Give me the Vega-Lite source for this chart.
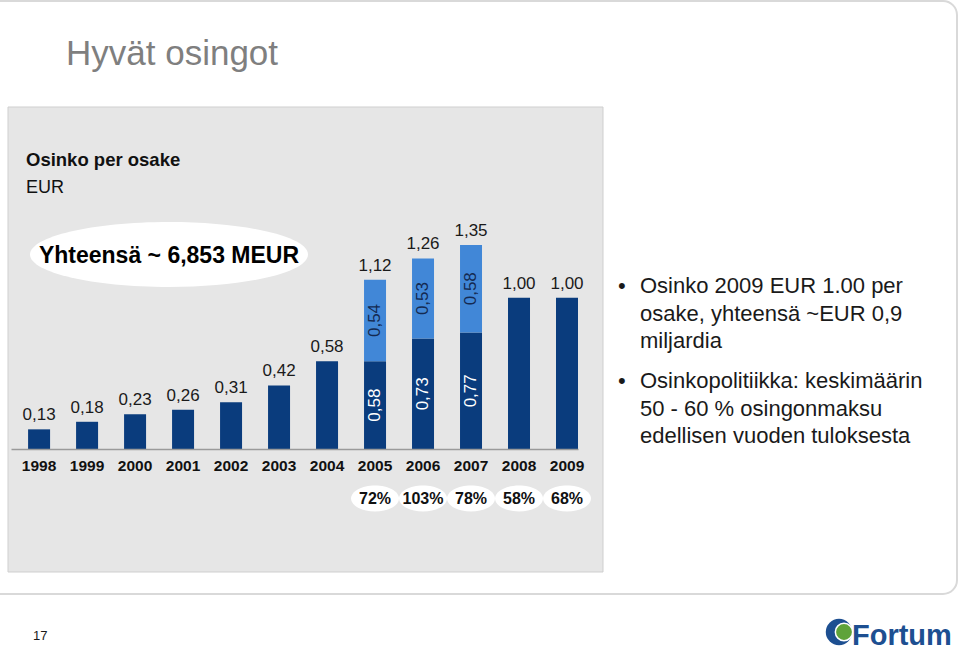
{
  "$schema": "https://vega.github.io/schema/vega-lite/v6.json",
  "width": 567,
  "height": 449,
  "autosize": {"type": "none"},
  "padding": {"left": 11, "top": 0, "right": 382, "bottom": 201},
  "background": "white",
  "config": {
    "view": {"stroke": null},
    "font": "Liberation Sans",
    "locale": {"number": {"decimal": ",", "thousands": "\u00a0", "grouping": [3], "currency": ["", "\u00a0€"]}}
  },
  "datasets": {
    "osinko": [
      {"year": "1998", "part": "Osinko", "value": 0.13},
      {"year": "1999", "part": "Osinko", "value": 0.18},
      {"year": "2000", "part": "Osinko", "value": 0.23},
      {"year": "2001", "part": "Osinko", "value": 0.26},
      {"year": "2002", "part": "Osinko", "value": 0.31},
      {"year": "2003", "part": "Osinko", "value": 0.42},
      {"year": "2004", "part": "Osinko", "value": 0.58},
      {"year": "2005", "part": "Osinko", "value": 0.58},
      {"year": "2005", "part": "Lisäosinko", "value": 0.54},
      {"year": "2006", "part": "Osinko", "value": 0.73},
      {"year": "2006", "part": "Lisäosinko", "value": 0.53},
      {"year": "2007", "part": "Osinko", "value": 0.77},
      {"year": "2007", "part": "Lisäosinko", "value": 0.58},
      {"year": "2008", "part": "Osinko", "value": 1.0},
      {"year": "2009", "part": "Osinko", "value": 1.0}
    ],
    "payout": [
      {"year": "2005", "ratio": 0.72},
      {"year": "2006", "ratio": 1.03},
      {"year": "2007", "ratio": 0.78},
      {"year": "2008", "ratio": 0.58},
      {"year": "2009", "ratio": 0.68}
    ]
  },
  "layer": [
    {
      "data": {"values": [{}]},
      "mark": {"type": "rect", "fill": "white", "stroke": "#d9d9d9", "strokeWidth": 2, "cornerRadius": 14},
      "encoding": {"x": {"value": -25}, "x2": {"value": 946}, "y": {"value": 1}, "y2": {"value": 594}}
    },
    {
      "data": {"values": [{}]},
      "mark": {"type": "rect", "fill": "#e6e6e6", "stroke": "#cfcfcf", "strokeWidth": 1},
      "encoding": {"x": {"value": -3}, "x2": {"value": 592}, "y": {"value": 107}, "y2": {"value": 572}}
    },
    {
      "data": {"values": [{}]},
      "mark": {"type": "text", "text": "Hyvät osingot", "align": "left", "baseline": "alphabetic", "fontSize": 35, "color": "#7f7f7f"},
      "encoding": {"x": {"value": 55}, "y": {"value": 65}}
    },
    {
      "data": {"values": [{}]},
      "mark": {"type": "text", "text": "Osinko per osake", "align": "left", "baseline": "alphabetic", "fontSize": 18.5, "fontWeight": "bold", "color": "#111111"},
      "encoding": {"x": {"value": 15}, "y": {"value": 166}}
    },
    {
      "data": {"values": [{}]},
      "mark": {"type": "text", "text": "EUR", "align": "left", "baseline": "alphabetic", "fontSize": 18, "color": "#111111"},
      "encoding": {"x": {"value": 15}, "y": {"value": 193}}
    },
    {
      "data": {"values": [{}]},
      "mark": {"type": "point", "shape": "M-139,0A139,32.5,0,1,0,139,0A139,32.5,0,1,0,-139,0Z", "size": 4, "filled": true, "fill": "white", "opacity": 1, "strokeWidth": 0},
      "encoding": {"x": {"value": 158}, "y": {"value": 254.5}}
    },
    {
      "data": {"values": [{}]},
      "mark": {"type": "text", "text": "Yhteensä ~ 6,853 MEUR", "align": "center", "baseline": "middle", "fontSize": 23, "fontWeight": "bold", "color": "#000000"},
      "encoding": {"x": {"value": 158}, "y": {"value": 256}}
    },
    {
      "data": {"name": "osinko"},
      "mark": {"type": "bar"},
      "encoding": {
        "x": {"field": "year", "type": "nominal", "title": null,
              "scale": {"paddingInner": 0.5417, "paddingOuter": 0.178, "align": 1},
              "axis": {"zindex": 2, "domainColor": "#9a9a9a", "domainWidth": 1.5, "ticks": false, "tickSize": 0, "labelAngle": 0, "labelFontWeight": "bold", "labelFontSize": 15.5, "labelColor": "#111111", "labelPadding": 16, "labelBaseline": "middle"}},
        "y": {"field": "value", "type": "quantitative", "aggregate": "sum", "scale": {"domain": [0, 2.9696], "nice": false}, "axis": null},
        "color": {"field": "part", "type": "nominal", "scale": {"domain": ["Osinko", "Lisäosinko"], "range": ["#0a3c7d", "#4187d7"]}, "legend": null},
        "order": {"field": "part", "sort": "descending"}
      }
    },
    {
      "data": {"name": "osinko"},
      "transform": [
        {"filter": {"field": "year", "oneOf": ["2005", "2006", "2007"]}},
        {"stack": "value", "groupby": ["year"], "sort": [{"field": "part", "order": "descending"}], "as": ["v0", "v1"]},
        {"calculate": "(datum.v0 + datum.v1) / 2", "as": "vmid"}
      ],
      "mark": {"type": "text", "angle": 270, "align": "center", "baseline": "middle", "fontSize": 17},
      "encoding": {
        "x": {"field": "year", "type": "nominal", "title": null,
              "scale": {"paddingInner": 0.5417, "paddingOuter": 0.178, "align": 1},
              "axis": {"zindex": 2, "domainColor": "#9a9a9a", "domainWidth": 1.5, "ticks": false, "tickSize": 0, "labelAngle": 0, "labelFontWeight": "bold", "labelFontSize": 15.5, "labelColor": "#111111", "labelPadding": 16, "labelBaseline": "middle"}},
        "y": {"field": "vmid", "type": "quantitative", "scale": {"domain": [0, 2.9696], "nice": false}, "axis": null},
        "text": {"field": "value", "type": "quantitative", "format": ".2f"},
        "color": {"condition": {"test": "datum.part === 'Osinko'", "value": "#ffffff"}, "value": "#142a52"}
      }
    },
    {
      "data": {"name": "osinko"},
      "transform": [
        {"aggregate": [{"op": "sum", "field": "value", "as": "total"}], "groupby": ["year"]}
      ],
      "mark": {"type": "text", "align": "center", "baseline": "alphabetic", "dy": -9, "fontSize": 17, "color": "#1a1a1a"},
      "encoding": {
        "x": {"field": "year", "type": "nominal", "title": null,
              "scale": {"paddingInner": 0.5417, "paddingOuter": 0.178, "align": 1},
              "axis": {"zindex": 2, "domainColor": "#9a9a9a", "domainWidth": 1.5, "ticks": false, "tickSize": 0, "labelAngle": 0, "labelFontWeight": "bold", "labelFontSize": 15.5, "labelColor": "#111111", "labelPadding": 16, "labelBaseline": "middle"}},
        "y": {"field": "total", "type": "quantitative", "scale": {"domain": [0, 2.9696], "nice": false}, "axis": null},
        "text": {"field": "total", "type": "quantitative", "format": ".2f"}
      }
    },
    {
      "data": {"name": "payout"},
      "mark": {"type": "point", "shape": "M-24,0A24,13,0,1,0,24,0A24,13,0,1,0,-24,0Z", "size": 4, "filled": true, "fill": "white", "opacity": 1, "strokeWidth": 0},
      "encoding": {
        "x": {"field": "year", "type": "nominal", "title": null,
              "scale": {"paddingInner": 0.5417, "paddingOuter": 0.178, "align": 1},
              "axis": {"zindex": 2, "domainColor": "#9a9a9a", "domainWidth": 1.5, "ticks": false, "tickSize": 0, "labelAngle": 0, "labelFontWeight": "bold", "labelFontSize": 15.5, "labelColor": "#111111", "labelPadding": 16, "labelBaseline": "middle"}},
        "y": {"value": 498.5}
      }
    },
    {
      "data": {"name": "payout"},
      "mark": {"type": "text", "align": "center", "baseline": "middle", "fontSize": 16, "fontWeight": "bold", "color": "#111111"},
      "encoding": {
        "x": {"field": "year", "type": "nominal", "title": null,
              "scale": {"paddingInner": 0.5417, "paddingOuter": 0.178, "align": 1},
              "axis": {"zindex": 2, "domainColor": "#9a9a9a", "domainWidth": 1.5, "ticks": false, "tickSize": 0, "labelAngle": 0, "labelFontWeight": "bold", "labelFontSize": 15.5, "labelColor": "#111111", "labelPadding": 16, "labelBaseline": "middle"}},
        "y": {"value": 498.5},
        "text": {"field": "ratio", "type": "quantitative", "format": ".0%"}
      }
    },
    {
      "data": {"values": [{}]},
      "mark": {"type": "text", "text": "•", "align": "left", "baseline": "alphabetic", "fontSize": 22, "color": "#1a1a1a"},
      "encoding": {"x": {"value": 607}, "y": {"value": 293}}
    },
    {
      "data": {"values": [{}]},
      "mark": {"type": "text", "text": ["Osinko 2009 EUR 1.00 per", "osake, yhteensä ~EUR 0,9", "miljardia"], "align": "left", "baseline": "alphabetic", "fontSize": 22, "lineHeight": 27.5, "color": "#1a1a1a"},
      "encoding": {"x": {"value": 629}, "y": {"value": 293}}
    },
    {
      "data": {"values": [{}]},
      "mark": {"type": "text", "text": "•", "align": "left", "baseline": "alphabetic", "fontSize": 22, "color": "#1a1a1a"},
      "encoding": {"x": {"value": 607}, "y": {"value": 388}}
    },
    {
      "data": {"values": [{}]},
      "mark": {"type": "text", "text": ["Osinkopolitiikka: keskimäärin", "50 - 60 % osingonmaksu", "edellisen vuoden tuloksesta"], "align": "left", "baseline": "alphabetic", "fontSize": 22, "lineHeight": 27.5, "color": "#1a1a1a"},
      "encoding": {"x": {"value": 629}, "y": {"value": 388}}
    },
    {
      "data": {"values": [{}]},
      "mark": {"type": "text", "text": "17", "align": "left", "baseline": "alphabetic", "fontSize": 13, "color": "#1a1a1a"},
      "encoding": {"x": {"value": 22}, "y": {"value": 640}}
    },
    {
      "data": {"values": [{}]},
      "mark": {"type": "point", "shape": "circle", "size": 700, "filled": true, "fill": "#1d4f91", "opacity": 1, "strokeWidth": 0},
      "encoding": {"x": {"value": 828}, "y": {"value": 632}}
    },
    {
      "data": {"values": [{}]},
      "mark": {"type": "point", "shape": "circle", "size": 300, "filled": true, "fill": "#5fa33a", "opacity": 1, "stroke": "white", "strokeWidth": 1.5},
      "encoding": {"x": {"value": 833}, "y": {"value": 632}}
    },
    {
      "data": {"values": [{}]},
      "mark": {"type": "text", "text": "Fortum", "align": "left", "baseline": "alphabetic", "fontSize": 29, "fontWeight": "bold", "color": "#1d4f91"},
      "encoding": {"x": {"value": 841}, "y": {"value": 645}}
    }
  ]
}
